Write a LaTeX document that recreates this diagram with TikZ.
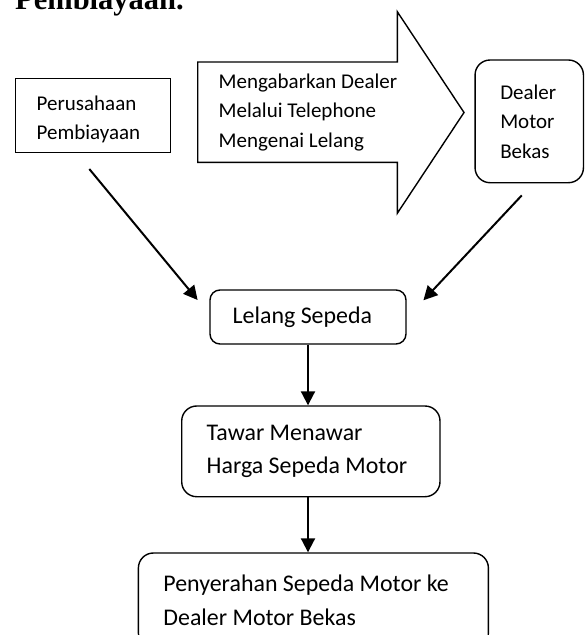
\documentclass[tikz,border=0pt]{standalone}
\usepackage{fontspec}
\setmainfont{Carlito}
\newfontfamily\headFont{Liberation Serif}
\usetikzlibrary{arrows.meta}

\begin{document}
\begin{tikzpicture}[x=1pt, y=-1pt,
    boxStyle/.style={rectangle, draw, line width=1.4pt, inner xsep=21pt, inner ysep=0pt, align=flush left, font=\fontsize{21}{29.5}\selectfont},
    roundStyle/.style={boxStyle, rounded corners=15pt, inner xsep=25pt, font=\fontsize{23.9}{33.5}\selectfont},
    flowStyle/.style={line width=2pt, -{Triangle[length=14pt, width=14pt]}}]
    \useasboundingbox (0,0) rectangle (585,635);
    \clip (0,0) rectangle (585,635);

    \node[anchor=base west, inner sep=0pt, font=\headFont\bfseries\fontsize{30.5}{36}\selectfont] (judul) at (15,9) {Pembiayaan.};

    % top row
    \node[boxStyle, text width=112.6pt, minimum height=74pt, text height=23pt] (box_pb) at (93,115.3) {Perusahaan\\Pembiayaan};
    \draw[line width=1.4pt] (197.7,62) -- (397.3,62) -- (397.3,11.7) -- (464,112.5) -- (397.3,213.3) -- (397.3,162.3) -- (197.7,162.3) -- cycle;
    \node[anchor=west, inner sep=0pt, align=left, font=\fontsize{21}{29.7}\selectfont] (kabar) at (218.5,112.5) {Mengabarkan Dealer\\Melalui Telephone\\Mengenai Lelang};
    \node[boxStyle, rounded corners=15pt, inner xsep=25.2pt, text width=58pt, minimum height=122.7pt] (box_dealer) at (529.25,121.35) {Dealer\\Motor\\Bekas};

    % flow down
    \node[roundStyle, rounded corners=10pt, inner xsep=22.7pt, text width=150.6pt, minimum height=54pt] (box_lelang) at (308,317) {Lelang Sepeda};
    \node[roundStyle, text width=208.3pt, minimum height=90.7pt] (box_tawar) at (310.85,451.35) {Tawar Menawar\\Harga Sepeda Motor};
    \node[roundStyle, anchor=north west, text width=300pt, minimum height=95pt] (box_serah) at (137.7,552.3) {Penyerahan Sepeda Motor ke\\Dealer Motor Bekas};

    \draw[flowStyle] ([shift={(-3.7,16)}]box_pb.south) -- ([shift={(-11.7,10.7)}]box_lelang.north west);
    \draw[flowStyle] ([shift={(-7.5,12)}]box_dealer.south) -- ([shift={(16.7,11)}]box_lelang.north east);
    \draw[flowStyle] (box_lelang.south) -- (box_lelang.south |- box_tawar.north);
    \draw[flowStyle] (box_tawar.south -| box_lelang.south) -- (box_serah.north -| box_lelang.south);
\end{tikzpicture}
\end{document}
